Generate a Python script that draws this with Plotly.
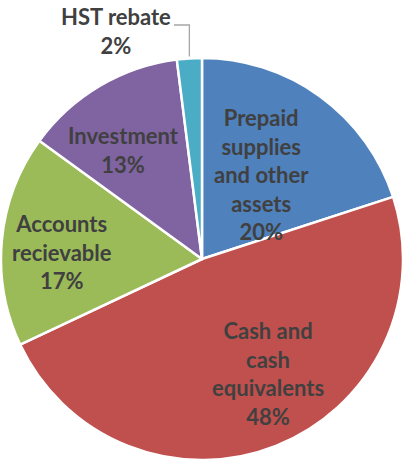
import math

import plotly.graph_objects as go

categories = ["Prepaid supplies and other assets", "Cash and cash equivalents",
              "Accounts recievable", "Investment", "HST rebate"]
label_lines = ["Prepaid<br>supplies<br>and other<br>assets",
               "Cash and<br>cash<br>equivalents",
               "Accounts<br>recievable",
               "Investment",
               "HST rebate"]
values = [20, 48, 17, 13, 2]
colors = ["#4F81BD", "#C0504D", "#9BBB59", "#8064A2", "#4BACC6"]

W, H = 404, 460
# pixel centres of the data labels (manually placed, like the original)
label_pos = [(261, 174), (268, 373), (62, 252), (123, 150), (116, 31)]

total = sum(values)
pcts = [round(v / total * 100) for v in values]

fig = go.Figure(go.Pie(
    labels=categories,
    values=values,
    sort=False,
    direction="clockwise",
    rotation=0,
    marker=dict(colors=colors, line=dict(color="white", width=2.5)),
    textinfo="none",
    hoverinfo="label+percent",
    domain=dict(x=[0, 1], y=[0, 402 / H]),
))

annotations = []
for txt, p, (px, py) in zip(label_lines, pcts, label_pos):
    annotations.append(dict(
        x=px / W, y=1 - py / H, xref="paper", yref="paper",
        text=f"{txt}<br>{p}%", showarrow=False,
        font=dict(family="Lato", size=22, color="#404040", weight="bold"),
        align="center", xanchor="center", yanchor="middle",
    ))

# leader line for the small HST slice, ending at the slice's mid-angle on the rim
cx, cy, r = 202, 259, 201
start = sum(values[:-1]) / total * 360
mid = math.radians(start + values[-1] / total * 360 / 2)
ex, ey = cx + r * math.sin(mid), cy - r * math.cos(mid)
hx = label_pos[-1][0] + 58
hy = 25
path = f"M {hx/W},{1-hy/H} L {ex/W},{1-hy/H} L {ex/W},{1-(ey-2)/H}"
shapes = [dict(type="path", xref="paper", yref="paper", path=path,
               line=dict(color="#A6A6A6", width=1.3))]

fig.update_layout(
    width=W, height=H,
    margin=dict(l=0, r=0, t=0, b=0),
    showlegend=False,
    paper_bgcolor="white",
    annotations=annotations,
    shapes=shapes,
)
fig.write_html("out.html", config={"displayModeBar": False},
               post_script="document.body.style.margin='0';")
